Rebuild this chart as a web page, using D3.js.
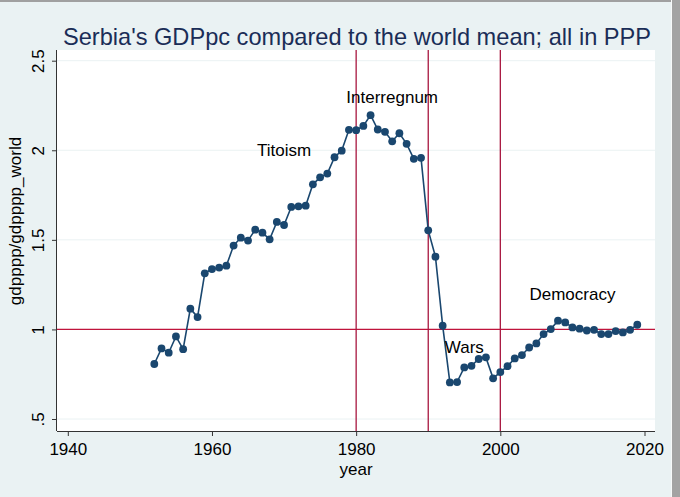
<!DOCTYPE html>
<html><head><meta charset="utf-8">
<script src="https://cdn.jsdelivr.net/npm/d3@7"></script>
<style>html,body{margin:0;padding:0;background:#eaf2f3;}svg{display:block;}</style>
</head><body>
<script>
const years = [1952,1953,1954,1955,1956,1957,1958,1959,1960,1961,1962,1963,1964,1965,1966,1967,1968,1969,1970,1971,1972,1973,1974,1975,1976,1977,1978,1979,1980,1981,1982,1983,1984,1985,1986,1987,1988,1989,1990,1991,1992,1993,1994,1995,1996,1997,1998,1999,2000,2001,2002,2003,2004,2005,2006,2007,2008,2009,2010,2011,2012,2013,2014,2015,2016,2017,2018,2019];
const ratio = [0.807,0.894,0.870,0.961,0.890,1.116,1.069,1.313,1.337,1.345,1.356,1.468,1.512,1.496,1.557,1.540,1.503,1.600,1.583,1.684,1.687,1.691,1.810,1.849,1.870,1.961,1.998,2.114,2.112,2.136,2.196,2.116,2.103,2.050,2.095,2.036,1.952,1.958,1.553,1.406,1.021,0.704,0.706,0.788,0.797,0.835,0.844,0.727,0.762,0.795,0.838,0.857,0.899,0.922,0.974,1.002,1.049,1.039,1.011,1.004,0.994,0.998,0.974,0.974,0.991,0.983,0.998,1.026];
const xTicks = [1940,1960,1980,2000,2020];
const yTicks = [0.5,1,1.5,2,2.5];
const yTickLabels = [".5","1","1.5","2","2.5"];
const vLines = [1980,1990,2000];
const hLines = [1];
const notes = [{year:1970,value:2.0,label:"Titoism"},{year:1985,value:2.3,label:"Interregnum"},{year:1995,value:0.9,label:"Wars"},{year:2010,value:1.2,label:"Democracy"}];
const titleText = "Serbia's GDPpc compared to the world mean; all in PPP";

const W=680,H=497;
const svg=d3.select("body").append("svg").attr("width",W).attr("height",H);
const font="'Liberation Sans', Arial, sans-serif";
svg.append("rect").attr("width",W).attr("height",H).attr("fill","#eaf2f3");
// frame
svg.append("rect").attr("x",0).attr("y",0).attr("width",W).attr("height",2).attr("fill","#a0a0a0");
svg.append("rect").attr("x",671).attr("y",0).attr("width",1).attr("height",H).attr("fill","#f7f9f9");
svg.append("rect").attr("x",672).attr("y",0).attr("width",8).attr("height",H).attr("fill","#a3a3a3");

const pL=57,pR=655,pT=50,pB=431;
const x=d3.scaleLinear().domain([1940,2020]).range([67.8,644.5]);
const y=d3.scaleLinear().domain([0.5,2.5]).range([419,60.7]);

svg.append("rect").attr("x",pL).attr("y",pT).attr("width",pR-pL).attr("height",pB-pT).attr("fill","#ffffff");
// grid
svg.append("g").selectAll("line").data(yTicks).join("line")
  .attr("x1",pL).attr("x2",pR).attr("y1",d=>y(d)).attr("y2",d=>y(d))
  .attr("stroke","#eaf2f3").attr("stroke-width",1);

const red="#a8163f";
svg.append("g").selectAll("line").data(hLines).join("line")
  .attr("x1",pL).attr("x2",pR).attr("y1",d=>y(d)).attr("y2",d=>y(d))
  .attr("stroke","#c0143c").attr("stroke-width",1.3);
svg.append("g").selectAll("line").data(vLines).join("line")
  .attr("x1",d=>x(d)).attr("x2",d=>x(d)).attr("y1",pT).attr("y2",pB)
  .attr("stroke",red).attr("stroke-width",1.3);

// axes
const xa=svg.append("g").attr("transform",`translate(0,${pB})`)
  .call(d3.axisBottom(x).tickValues(xTicks).tickFormat(d3.format("d")).tickSize(5).tickSizeOuter(0));
xa.select(".domain").attr("d",`M${pL},0.5H${pR}`).attr("stroke","#333");
xa.selectAll(".tick line").attr("stroke","#333");
xa.selectAll(".tick text").attr("font-family",font).attr("font-size",17).attr("fill","#000").attr("dy","0.95em");

const ya=svg.append("g").attr("transform",`translate(${pL},0)`)
  .call(d3.axisLeft(y).tickValues(yTicks).tickFormat((d,i)=>yTickLabels[i]).tickSize(5).tickSizeOuter(0));
ya.select(".domain").attr("d",`M-0.5,${pT}V${pB}`).attr("stroke","#333");
ya.selectAll(".tick line").attr("stroke","#333");
ya.selectAll(".tick text").attr("font-family",font).attr("font-size",17).attr("fill","#000")
  .attr("x",null).attr("dy",null).attr("text-anchor","middle")
  .attr("transform","translate(-13,0) rotate(-90)");

svg.append("text").attr("x",x(1980)).attr("y",475).attr("text-anchor","middle")
  .attr("font-family",font).attr("font-size",17).attr("fill","#000").text("year");
svg.append("text").attr("transform",`translate(21,221) rotate(-90)`).attr("text-anchor","middle")
  .attr("font-family",font).attr("font-size",17).attr("fill","#000").text("gdpppp/gdpppp_world");

// title
svg.append("text").attr("x",357).attr("y",45).attr("text-anchor","middle")
  .attr("font-family",font).attr("font-size",23.6).attr("fill","#1a2d57").text(titleText);

// line & markers
const pts=years.map((yr,i)=>[yr,ratio[i]]);
svg.append("path").datum(pts).attr("fill","none").attr("stroke","#1a476f").attr("stroke-width",1.6)
  .attr("d",d3.line().x(d=>x(d[0])).y(d=>y(d[1])));
svg.append("g").selectAll("circle").data(pts).join("circle")
  .attr("cx",d=>x(d[0])).attr("cy",d=>y(d[1])).attr("r",3.9).attr("fill","#1a476f");

// notes
svg.append("g").selectAll("text").data(notes).join("text")
  .attr("x",d=>x(d.year)).attr("y",d=>y(d.value)+6).attr("text-anchor","middle")
  .attr("font-family",font).attr("font-size",17).attr("fill","#000").text(d=>d.label);
</script>
</body></html>
